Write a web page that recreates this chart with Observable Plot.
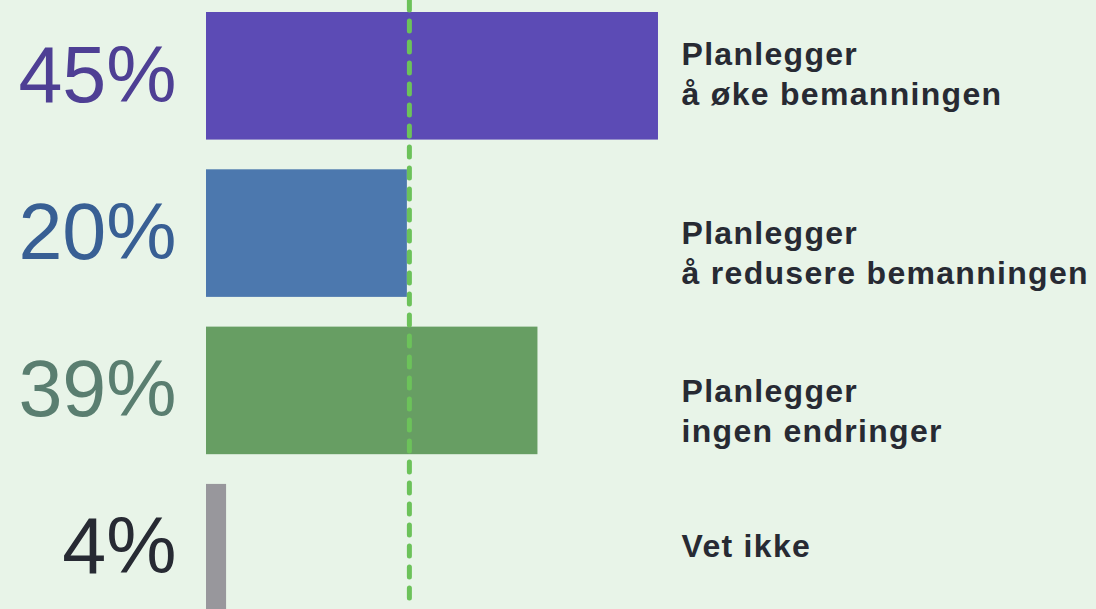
<!DOCTYPE html>
<html>
<head>
<meta charset="utf-8">
<script src="https://cdn.jsdelivr.net/npm/d3@7"></script>
<script src="https://cdn.jsdelivr.net/npm/@observablehq/plot@0.6"></script>
<style>
  html, body { margin: 0; padding: 0; background: #e8f4e8; overflow: hidden; }
  #chart svg { background: #e8f4e8; display: block; }
  .answer-label text { letter-spacing: 1.3px; }
</style>
</head>
<body>
<div id="chart"></div>
<script>
// Categories (answers), in display order
const categories = ["Planlegger\nå øke bemanningen", "Planlegger\nå redusere bemanningen", "Planlegger\ningen endringer", "Vet ikke"];
// Bar lengths as drawn in the picture (percent)
const barValues = [45, 20, 33, 2];
// Percentage labels as printed
const pctLabels = ["45%", "20%", "39%", "4%"];
// Colours
const barColors = ["#5c4bb5", "#4c78ae", "#679e63", "#98979c"];
const pctColors = ["#4e3f94", "#385f94", "#5a7e70", "#272a33"];
// Reference line value
const referenceValue = [20.2];

const data = categories.map((c, i) => ({
  category: c, value: barValues[i], pct: pctLabels[i],
  barColor: barColors[i], pctColor: pctColors[i], idx: i
}));

const chart = Plot.plot({
  width: 1096,
  height: 609,
  marginTop: 0, marginBottom: 0, marginLeft: 0, marginRight: 0,
  style: { background: "#e8f4e8", fontFamily: "'Liberation Sans', Arial, sans-serif", overflow: "hidden" },
  x: { domain: [0, 100], range: [206, 1210.4], axis: null },
  y: { domain: categories, range: [12, 611.5], paddingInner: 0.189, paddingOuter: 0, round: false, axis: null },
  marks: [
    Plot.barX(data, { y: "category", x: "value", fill: "barColor" }),
    Plot.ruleX(referenceValue, {
      stroke: "#6cc25a", strokeWidth: 5, strokeDasharray: "10,11", strokeLinecap: "round"
    }),
    Plot.text(data, {
      y: "category", x: () => 0, text: "pct", fill: "pctColor",
      textAnchor: "end", dx: -30, fontSize: 79, lineAnchor: "middle"
    }),
    Plot.text(data, {
      filter: d => d.idx === 0 || d.idx === 3,
      y: "category", x: () => 0, text: "category", fill: "#272a33",
      textAnchor: "start", dx: 475, dy: -4, fontSize: 32, fontWeight: "bold",
      lineHeight: 1.25, lineAnchor: "middle", className: "answer-label"
    }),
    Plot.text(data, {
      filter: d => d.idx === 1 || d.idx === 2,
      y: "category", x: () => 0, text: "category", fill: "#272a33",
      textAnchor: "start", dx: 475, dy: 18, fontSize: 32, fontWeight: "bold",
      lineHeight: 1.25, lineAnchor: "middle", className: "answer-label"
    })
  ]
});

document.getElementById("chart").appendChild(chart);
</script>
</body>
</html>
